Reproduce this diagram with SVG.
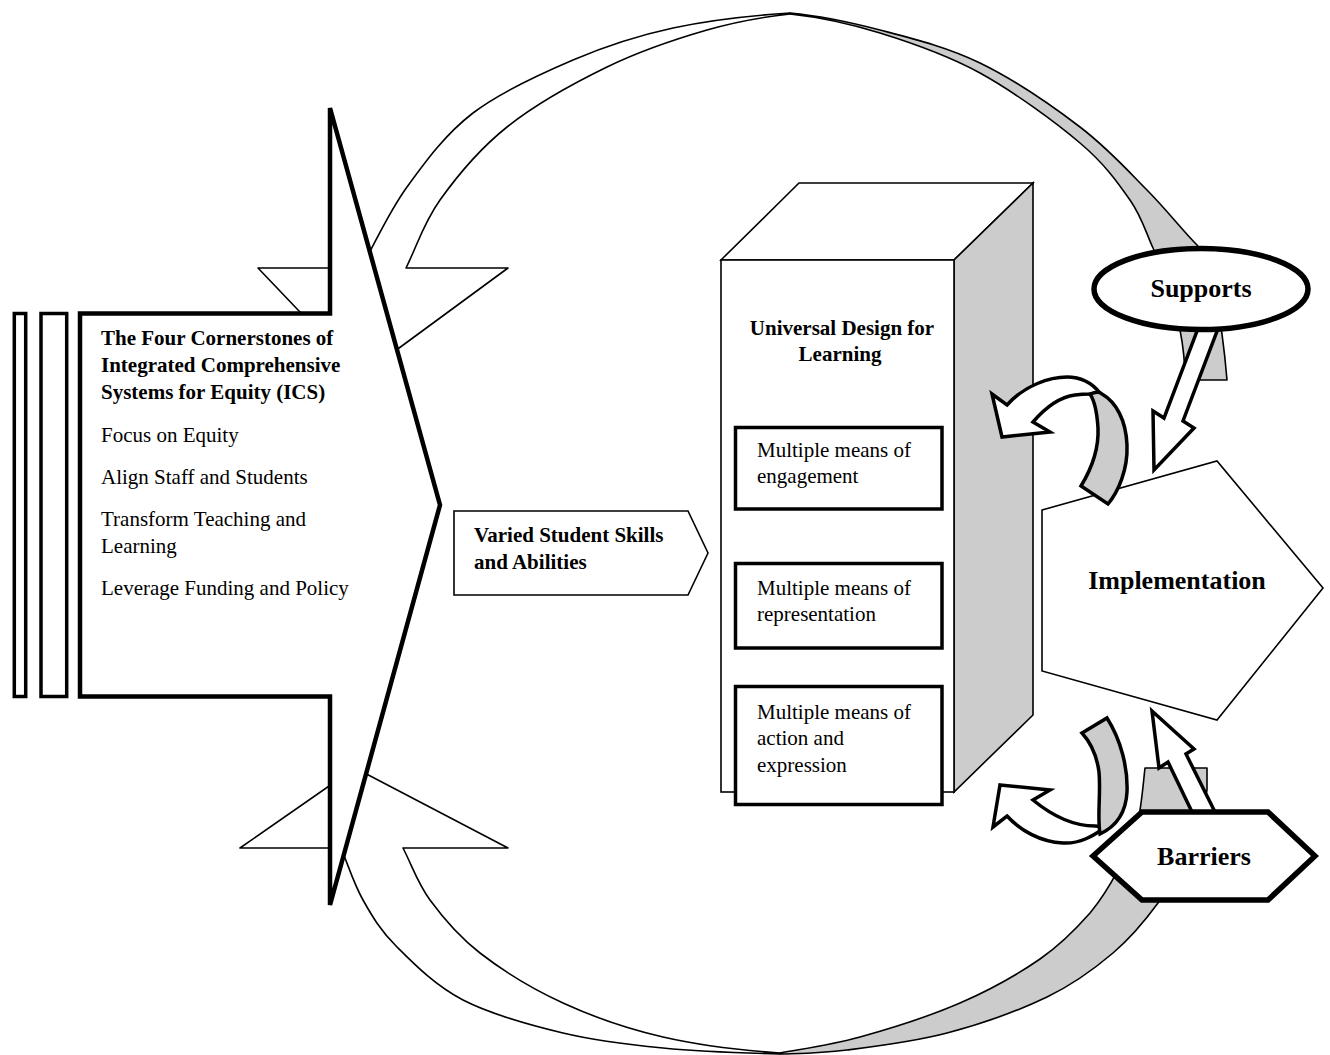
<svg xmlns="http://www.w3.org/2000/svg" width="1330" height="1055" viewBox="0 0 1330 1055">
<style>
text { font-family: "Liberation Serif", "Times New Roman", serif; font-size: 21px; fill: #000; }
.b { font-weight: bold; }
.big { font-size: 26px; font-weight: bold; }
.ring { stroke: #000; stroke-width: 1.6; stroke-linejoin: round; }
.w { fill: #fff; }
.g { fill: #ccc; }
.thin { fill: #fff; stroke: #000; stroke-width: 1.6; }
.thick { stroke: #000; stroke-width: 3.5; stroke-linejoin: miter; }
</style>
<rect width="1330" height="1055" fill="#fff"/>

<g id="cycle">
  <path class="ring g" d="M780,1054 C802.3,1053.3 819.2,1053.5 847,1050 C874.8,1046.5 913.7,1041.8 947,1033 C980.3,1024.2 1019.3,1010.3 1047,997 C1074.7,983.7 1094.5,968.7 1113,953 C1131.5,937.3 1144.8,921 1158,903 C1171.2,885 1183.8,863.8 1192,845 C1200.2,826.2 1204.5,802.8 1207,790 L1207,768 L1145,768 C1142.8,787 1141.5,808 1137,825 C1132.5,842 1125.8,855.3 1118,870 C1110.2,884.7 1103,897.2 1090,913 C1077,927.8 1061.7,944 1040,959 C1018.3,974 990,990 960,1003 C930,1016 890,1028.7 860,1037 C830,1045.3 806.7,1048.2 780,1053 Z"/>
  <path class="ring w" d="M240,848 L341,848 C348.3,865.3 353.7,883.5 363,900 C372.3,916.5 380.3,930.3 397,947 C413.7,963.7 435.3,985.7 463,1000 C490.7,1014.3 529.7,1025 563,1033 C596.3,1041 626.8,1044.5 663,1048 C699.2,1051.5 741,1053 780,1054 L780,1053 C741,1050.3 699.2,1045.3 663,1037 C626.8,1028.7 593.5,1017 563,1003 C532.5,989 502.2,970.2 480,953 C457.8,935.8 442.8,917.5 430,900 C417.2,882.5 412,865.3 403,848 L508,848 L355,768 Z"/>
  <path class="ring w" d="M258,268 L361,376 L508,268 L406,268 C417.3,245.3 423.2,223.5 440,200 C456.8,176.5 479.2,149.2 507,127 C534.8,104.8 573.7,83.2 607,67 C640.3,50.8 676.5,38.8 707,30 C737.5,21.2 762.3,17 790,14 L790,13 C751,15.5 709.2,20.2 673,28 C636.8,35.8 606.3,45.8 573,60 C539.7,74.2 500.7,91.8 473,113 C445.3,134.2 425.7,161.2 407,187 C388.3,212.8 376.3,241 361,268 Z"/>
  <path class="ring g" d="M790,13 C820,15.8 848.3,21.7 880,30 C911.7,38.3 946.7,46.8 980,63 C1013.3,79.2 1052.2,105.8 1080,127 C1107.8,148.2 1127.5,170.3 1147,190 C1166.5,209.7 1183,231 1197,245 C1211,259 1222,320 1227,380 L1185,380 C1185,365 1183,345 1180,330 C1177,310 1161,265 1153,248 C1146,233 1142.2,217.5 1130,200 C1117.8,182.5 1105,164.2 1080,143 C1055,121.8 1013.3,91.3 980,73 C946.7,54.7 911.7,42.8 880,33 C848.3,23.2 820,17.2 790,14 Z"/>
</g>

<g id="ics">
  <path d="M80,313.5 L330,313.5 L330,108 L440,505 L330,905 L330,696.5 L80,696.5 Z" fill="#fff" stroke="#000" stroke-width="4.5"/>
  <rect x="14.3" y="313.5" width="11.4" height="383" fill="#fff" stroke="#000" stroke-width="3.5"/>
  <rect x="41" y="313.5" width="25.7" height="383" fill="#fff" stroke="#000" stroke-width="3.5"/>
  <text class="b" x="101" y="345">The Four Cornerstones of</text>
  <text class="b" x="101" y="372">Integrated Comprehensive</text>
  <text class="b" x="101" y="399">Systems for Equity (ICS)</text>
  <text x="101" y="442">Focus on Equity</text>
  <text x="101" y="484">Align Staff and Students</text>
  <text x="101" y="526">Transform Teaching and</text>
  <text x="101" y="553">Learning</text>
  <text x="101" y="595">Leverage Funding and Policy</text>
</g>

<g id="varied">
  <path class="thin" d="M454,511 L688,511 L708,553 L688,595 L454,595 Z"/>
  <text class="b" x="474" y="542">Varied Student Skills</text>
  <text class="b" x="474" y="569">and Abilities</text>
</g>

<g id="udl">
  <path class="thin" d="M721,260 L799,183 L1033,183 L954,260 Z"/>
  <path class="thin" d="M954,260 L1033,183 L1033,715 L954,792 Z" style="fill:#ccc"/>
  <rect class="thin" x="721" y="260" width="233" height="532"/>
  <text class="b" x="842" y="335" text-anchor="middle">Universal Design for</text>
  <text class="b" x="840" y="361" text-anchor="middle">Learning</text>
  <rect x="735.5" y="427.5" width="206.5" height="81.5" fill="#fff" stroke="#000" stroke-width="3.5"/>
  <text x="757" y="457">Multiple means of</text>
  <text x="757" y="483">engagement</text>
  <rect x="735.5" y="563.5" width="206.5" height="84.5" fill="#fff" stroke="#000" stroke-width="3.5"/>
  <text x="757" y="595">Multiple means of</text>
  <text x="757" y="621">representation</text>
  <rect x="735.5" y="686.5" width="206.5" height="118" fill="#fff" stroke="#000" stroke-width="3.5"/>
  <text x="757" y="719">Multiple means of</text>
  <text x="757" y="745">action and</text>
  <text x="757" y="772">expression</text>
</g>

<g id="implementation">
  <path class="thin" d="M1042,510 L1217,461 L1323,588 L1217,720 L1042,671 Z"/>
  <text class="big" x="1177" y="589" text-anchor="middle">Implementation</text>
</g>

<g id="connectors">
  <path class="thick w" d="M1100,393 C1092,383 1080,377 1067,377 C1050,377 1025,385 1007,405 L992,394 L1002,437 L1050,432 L1033,422 C1045,408 1060,397 1075,395 C1082,394 1087,394 1090,394 Z"/>
  <path class="thick g" d="M1090,394 C1095,392 1100,392 1102,394 C1116,402 1126,420 1127,445 C1128,470 1118,492 1108,504 L1081,486 C1092,468 1099,450 1098,428 C1097,412 1094,400 1090,394 Z"/>
  <path class="thick w" d="M1000,785 L1050,790 L1033,800 C1050,814 1072,826 1095,826 L1106,827 C1093,836 1080,844 1063,843 C1040,842 1020,830 1007,816 L993,827 Z"/>
  <path class="thick g" d="M1082,733 L1107,718 C1121,740 1128,768 1127,792 C1126,812 1117,826 1100,834 C1097,816 1101,793 1099,772 C1097,757 1091,743 1082,733 Z"/>
  <path class="thick w" d="M1202,318 L1222,318 L1183,421 L1194,428 L1154,470 L1153,411 L1164,418 Z"/>
  <path class="thick w" d="M1152,711 L1194,749 L1186,754 L1216,814 L1193,814 L1168,762 L1159,768 Z"/>
</g>

<g id="supports">
  <ellipse cx="1201" cy="289" rx="107" ry="40.5" fill="#fff" stroke="#000" stroke-width="5.5"/>
  <text class="big" x="1201" y="297" text-anchor="middle">Supports</text>
</g>

<g id="barriers">
  <path d="M1093,856 L1142,812 L1268,812 L1315,856 L1268,900 L1142,900 Z" fill="#fff" stroke="#000" stroke-width="5.5"/>
  <text class="big" x="1204" y="865" text-anchor="middle">Barriers</text>
</g>
</svg>
